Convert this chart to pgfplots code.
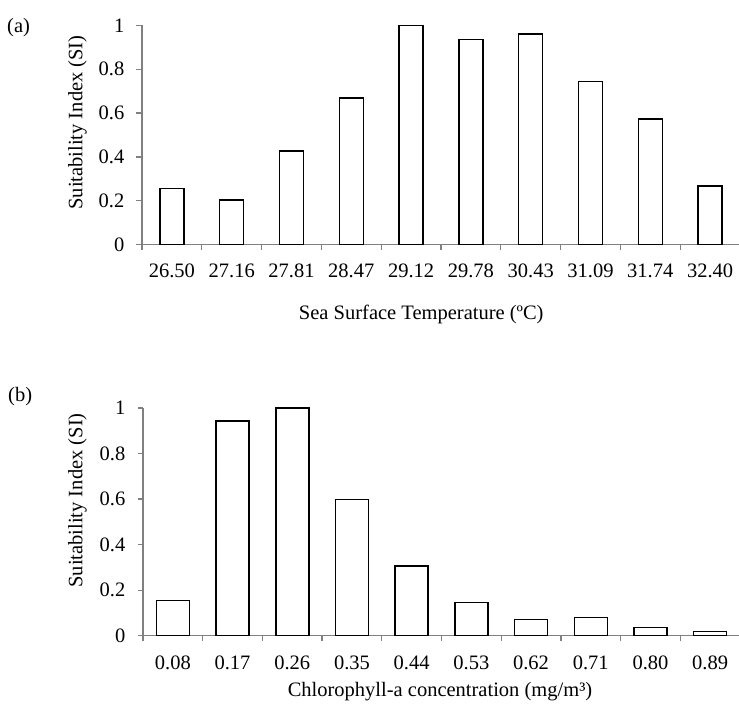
\documentclass[border=0pt]{standalone}
\usepackage{fontspec}
\setmainfont{Liberation Serif}
\usepackage{pgfplots}
\pgfplotsset{compat=1.18}

% shared look of both panels
\pgfplotsset{
  sipanel/.style={
    scale only axis,
    ybar, bar width=24pt,
    xmin=-0.5, xmax=9.5, ymin=0, ymax=1,
    axis x line*=bottom, axis y line*=left,
    axis line style={black!50, line width=1.3pt},
    xtick={0,...,9}, minor xtick={-0.5,0.5,...,9.5},
    ytick={0,0.2,0.4,0.6,0.8,1}, yticklabels={0,0.2,0.4,0.6,0.8,1},
    tick align=outside,
    major tick length=5.5pt, minor tick length=5.5pt,
    tick style={black!50, line width=1.3pt},
    every major x tick/.append style={draw=none},
    /pgf/number format/assume math mode=true,
    x tick label style={inner sep=0pt, anchor=north},
    y tick label style={inner sep=0pt, anchor=east},
    xticklabel shift=14pt,
    yticklabel shift=12pt,
    ylabel={Suitability Index (SI)},
  },
  sibar/.style={fill=white, draw=black, line width=1.5pt},
}

\begin{document}
\begin{tikzpicture}[x=1pt, y=1pt, font=\fontsize{20.5pt}{24pt}\selectfont]
\path[use as bounding box] (0,0) rectangle (739,708);

% (a) sea surface temperature
\begin{axis}[
  sipanel,
  at={(142pt,463.5pt)}, anchor=south west,
  width=598pt, height=219pt,
  xticklabels={26.50,27.16,27.81,28.47,29.12,29.78,30.43,31.09,31.74,32.40},
  xlabel={Sea Surface Temperature (ºC)},
  every axis x label/.style={at={(axis description cs:0.467,0)}, yshift=-75.5pt, anchor=base, inner sep=0pt},
  every axis y label/.style={at={(axis description cs:0,0.557)}, xshift=-64.5pt, rotate=90, anchor=center, inner sep=0pt},
]
\addplot[sibar] coordinates {
  (0,0.255) (1,0.203) (2,0.426) (3,0.670) (4,1.000)
  (5,0.935) (6,0.960) (7,0.745) (8,0.574) (9,0.266)
};
\end{axis}

% (b) chlorophyll-a
\begin{axis}[
  sipanel,
  at={(143pt,72.3pt)}, anchor=south west,
  width=597pt, height=227.7pt,
  bar width=33pt,
  xticklabels={0.08,0.17,0.26,0.35,0.44,0.53,0.62,0.71,0.80,0.89},
  xlabel={Chlorophyll-a concentration (mg/m³)},
  every axis x label/.style={at={(axis description cs:0.4975,0)}, yshift=-61pt, anchor=base, inner sep=0pt},
  every axis y label/.style={at={(axis description cs:0,0.594)}, xshift=-65.5pt, rotate=90, anchor=center, inner sep=0pt},
]
\addplot[sibar] coordinates {
  (0,0.155) (1,0.943) (2,1.000) (3,0.599) (4,0.307)
  (5,0.145) (6,0.072) (7,0.079) (8,0.037) (9,0.019)
};
\end{axis}

\node[anchor=base west, inner sep=0pt] at (7,675) {(a)};
\node[anchor=base west, inner sep=0pt] at (8,306) {(b)};
\end{tikzpicture}
\end{document}
